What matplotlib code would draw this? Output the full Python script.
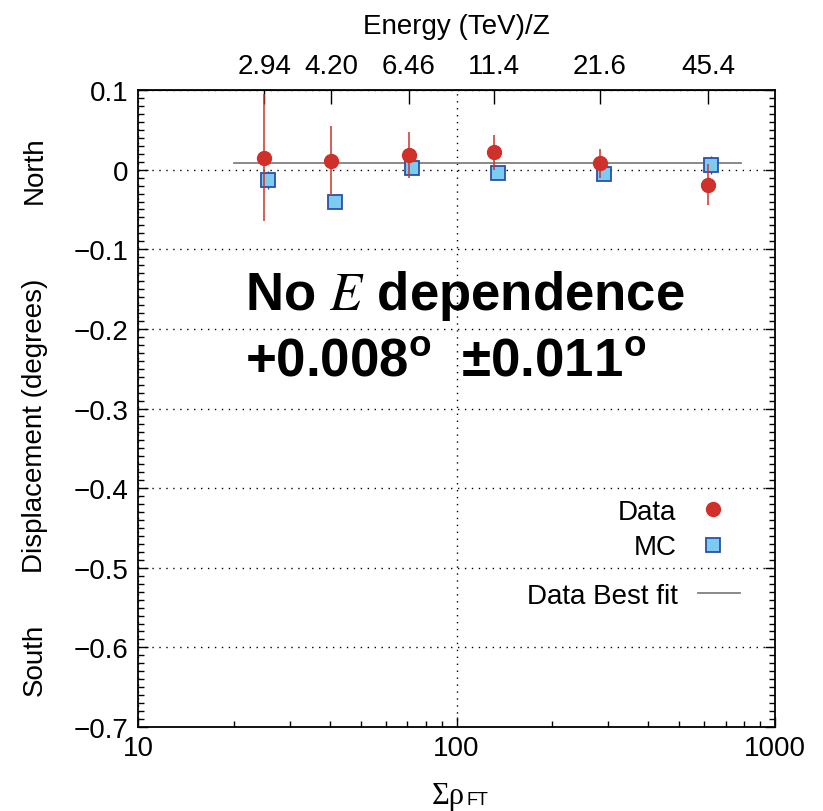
import matplotlib
matplotlib.use("Agg")
import matplotlib.pyplot as plt
import matplotlib.transforms as mtransforms
from matplotlib.lines import Line2D

plt.rcParams["font.family"] = ["Liberation Sans", "DejaVu Sans"]
plt.rcParams["mathtext.fontset"] = "custom"
plt.rcParams["mathtext.rm"] = "Liberation Sans:bold"
plt.rcParams["mathtext.bf"] = "Liberation Sans:bold"

# data
data_x = [24.9, 40.4, 70.9, 131, 282, 616]
data_y = [0.015, 0.011, 0.018, 0.022, 0.008, -0.019]
data_err = [0.080, 0.044, 0.029, 0.022, 0.018, 0.026]
mc_x = [25.6, 41.6, 72.5, 135, 290, 630]
mc_y = [-0.013, -0.040, 0.002, -0.004, -0.006, 0.006]
mc_err = [0.011, 0.004, 0.004, 0.004, 0.004, 0.011]
fit_x = [20, 780]
fit_y = [0.008, 0.008]
energy_labels = ["2.94", "4.20", "6.46", "11.4", "21.6", "45.4"]
y_ticks = [0.1, 0.0, -0.1, -0.2, -0.3, -0.4, -0.5, -0.6, -0.7]

RED = "#d0302a"
MC_FACE = "#7ccbf0"
MC_EDGE = "#2c4fa8"
FIT = "#808080"
FS = 20

fig = plt.figure(figsize=(8.23, 8.12), dpi=100)
ax = fig.add_axes([0.1677, 0.1034, 0.774, 0.7845])

ax.set_xscale("log")
ax.set_xlim(10, 1000)
ax.set_ylim(-0.7, 0.1)

ax.errorbar(mc_x, mc_y, yerr=mc_err, fmt="s", ms=10.5, mfc=MC_FACE, mec=MC_EDGE,
            mew=1.3, ecolor=MC_EDGE, elinewidth=1.0, capsize=0, zorder=3)
ax.errorbar(data_x, data_y, yerr=data_err, fmt="o", ms=10, color=RED, mec=RED,
            ecolor=RED, elinewidth=1.1, capsize=0, zorder=4)
ax.plot(fit_x, fit_y, color=FIT, lw=1.3, zorder=2)

ax.set_yticks(y_ticks)
ax.set_yticklabels(["0" if v == 0 else f"{v:.1f}".replace("-", "\u2212") for v in y_ticks])
ax.set_yticks([i / 100 for i in range(-70, 11)], minor=True)
ax.set_xticks([10, 100, 1000])
ax.set_xticklabels(["10", "100", "1000"])

ax.grid(True, which="major", color="black", linestyle=(0, (1, 4)), lw=1.0)
ax.tick_params(which="both", direction="in", top=False, right=True, labelsize=FS, width=1.0)
ax.tick_params(which="major", length=7)
ax.tick_params(which="minor", length=4)
ax.tick_params(axis="x", pad=6)
ax.tick_params(axis="y", pad=7)
for s in ax.spines.values():
    s.set_linewidth(1.3)

sec = ax.secondary_xaxis("top")
sec.set_xticks(data_x, labels=energy_labels)
sec.minorticks_off()
sec.tick_params(direction="in", length=10, labelsize=FS, pad=8, width=1.0)
sec.set_xlabel("Energy (TeV)/Z", fontsize=FS, labelpad=14)

# x label: upright serif Sigma rho with small sans "FT"
ax.text(0.487, -0.108, "\u03a3\u03c1", transform=ax.transAxes, ha="center", va="center",
        fontsize=22, family="Liberation Serif")
ax.text(0.515, -0.113, "FT", transform=ax.transAxes, ha="left", va="center", fontsize=13)

trans = mtransforms.blended_transform_factory(ax.transAxes, ax.transData)
ax.text(-0.162, 0.0, "North", rotation=90, ha="center", va="center", fontsize=FS, transform=trans)
ax.text(-0.162, -0.32, "Displacement (degrees)", rotation=90, ha="center", va="center",
        fontsize=FS, transform=trans)
ax.text(-0.162, -0.615, "South", rotation=90, ha="center", va="center", fontsize=FS, transform=trans)

ax.text(0.168, -0.175, r"No $E$ dependence", transform=trans, fontsize=38, fontweight="bold",
        va="baseline", ha="left", math_fontfamily="stix", zorder=6)
ax.text(0.168, -0.258, r"+0.008$^{\rm o}$  $\pm$0.011$^{\rm o}$", transform=trans, fontsize=38,
        fontweight="bold", va="baseline", ha="left", zorder=6)

data_h = Line2D([], [], ls="none", marker="o", ms=10, color=RED)
mc_h = Line2D([], [], ls="none", marker="s", ms=10.5, mfc=MC_FACE, mec=MC_EDGE, mew=1.3)
fit_h = Line2D([], [], color=FIT, lw=1.3)
leg1 = ax.legend([data_h, mc_h], ["Data", "MC"], loc="center right", bbox_to_anchor=(0.942, 0.31),
                 frameon=False, markerfirst=False, fontsize=FS, labelspacing=0.35,
                 handlelength=1.8, handletextpad=0.42, borderpad=0, borderaxespad=0)
ax.add_artist(leg1)
ax.legend([fit_h], ["Data Best fit"], loc="center right", bbox_to_anchor=(0.945, 0.206),
          frameon=False, markerfirst=False, fontsize=FS, handlelength=1.5, handletextpad=0.72,
          borderpad=0, borderaxespad=0)

fig.savefig("out.png", dpi=100)
